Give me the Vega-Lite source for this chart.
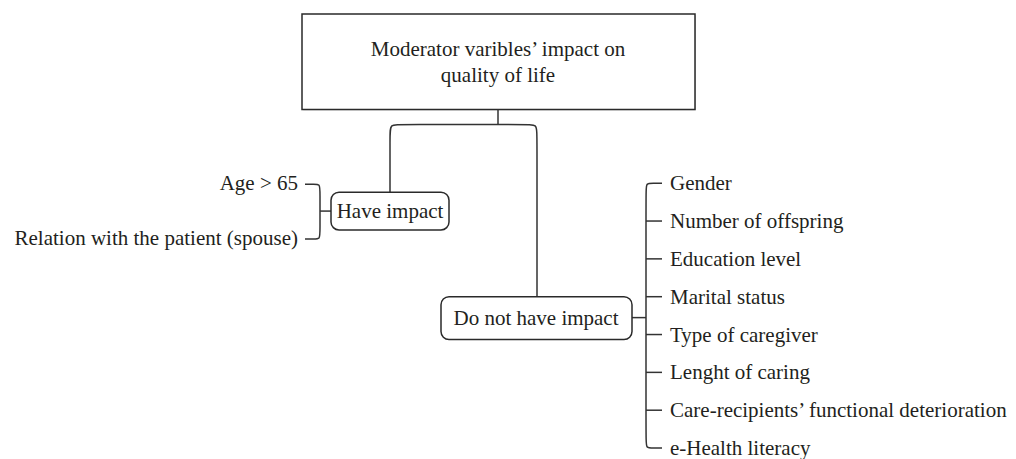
{
  "$schema": "https://vega.github.io/schema/vega-lite/v6.json",
  "width": 1016,
  "height": 459,
  "padding": 0,
  "autosize": {"type": "fit", "contains": "padding"},
  "background": "white",
  "config": {"view": {"stroke": null}},
  "datasets": {
    "boxes": [
      {"id": "root", "kind": "square", "x": 302, "x2": 695, "y": 14, "y2": 110},
      {"id": "have", "kind": "round", "x": 331, "x2": 449, "y": 193, "y2": 231},
      {"id": "not", "kind": "round", "x": 441, "x2": 632, "y": 298, "y2": 341}
    ],
    "paths": [
      {"path": "stem", "seq": 1, "x": 498, "y": 110},
      {"path": "stem", "seq": 2, "x": 498, "y": 125},
      {"path": "fork", "seq": 1, "x": 390, "y": 193},
      {"path": "fork", "seq": 2, "x": 390, "y": 135},
      {"path": "fork", "seq": 3, "x": 390, "y": 125},
      {"path": "fork", "seq": 4, "x": 400, "y": 125},
      {"path": "fork", "seq": 5, "x": 527, "y": 125},
      {"path": "fork", "seq": 6, "x": 537, "y": 125},
      {"path": "fork", "seq": 7, "x": 537, "y": 135},
      {"path": "fork", "seq": 8, "x": 537, "y": 298},
      {"path": "left", "seq": 1, "x": 305, "y": 185},
      {"path": "left", "seq": 2, "x": 314, "y": 185},
      {"path": "left", "seq": 3, "x": 320, "y": 185},
      {"path": "left", "seq": 4, "x": 320, "y": 191},
      {"path": "left", "seq": 5, "x": 320, "y": 234},
      {"path": "left", "seq": 6, "x": 320, "y": 240},
      {"path": "left", "seq": 7, "x": 314, "y": 240},
      {"path": "left", "seq": 8, "x": 305, "y": 240},
      {"path": "lefttick", "seq": 1, "x": 320, "y": 212},
      {"path": "lefttick", "seq": 2, "x": 331, "y": 212},
      {"path": "nottick", "seq": 1, "x": 632, "y": 319},
      {"path": "nottick", "seq": 2, "x": 646, "y": 319},
      {"path": "right", "seq": 1, "x": 662, "y": 184},
      {"path": "right", "seq": 2, "x": 653, "y": 184},
      {"path": "right", "seq": 3, "x": 646, "y": 184},
      {"path": "right", "seq": 4, "x": 646, "y": 191},
      {"path": "right", "seq": 5, "x": 646, "y": 443},
      {"path": "right", "seq": 6, "x": 646, "y": 450},
      {"path": "right", "seq": 7, "x": 653, "y": 450},
      {"path": "right", "seq": 8, "x": 662, "y": 450},
      {"path": "t2", "seq": 1, "x": 646, "y": 222},
      {"path": "t2", "seq": 2, "x": 662, "y": 222},
      {"path": "t3", "seq": 1, "x": 646, "y": 260},
      {"path": "t3", "seq": 2, "x": 662, "y": 260},
      {"path": "t4", "seq": 1, "x": 646, "y": 298},
      {"path": "t4", "seq": 2, "x": 662, "y": 298},
      {"path": "t5", "seq": 1, "x": 646, "y": 336},
      {"path": "t5", "seq": 2, "x": 662, "y": 336},
      {"path": "t6", "seq": 1, "x": 646, "y": 374},
      {"path": "t6", "seq": 2, "x": 662, "y": 374},
      {"path": "t7", "seq": 1, "x": 646, "y": 412},
      {"path": "t7", "seq": 2, "x": 662, "y": 412}
    ],
    "labels": [
      {"role": "node", "x": 498, "y": 56, "text": "Moderator varibles’ impact on"},
      {"role": "node", "x": 498, "y": 82, "text": "quality of life"},
      {"role": "node", "x": 390, "y": 219, "text": "Have impact"},
      {"role": "node", "x": 536, "y": 326, "text": "Do not have impact"},
      {"role": "left", "x": 298, "y": 191, "text": "Age > 65"},
      {"role": "left", "x": 298, "y": 246, "text": "Relation with the patient (spouse)"},
      {"role": "right", "x": 670, "y": 191, "text": "Gender"},
      {"role": "right", "x": 670, "y": 229, "text": "Number of offspring"},
      {"role": "right", "x": 670, "y": 267, "text": "Education level"},
      {"role": "right", "x": 670, "y": 305, "text": "Marital status"},
      {"role": "right", "x": 670, "y": 343, "text": "Type of caregiver"},
      {"role": "right", "x": 670, "y": 381, "text": "Lenght of caring"},
      {"role": "right", "x": 670, "y": 419, "text": "Care-recipients’ functional deterioration"},
      {"role": "right", "x": 670, "y": 457, "text": "e-Health literacy"}
    ]
  },
  "layer": [
    {
      "data": {"name": "boxes"},
      "transform": [{"filter": "datum.kind === 'square'"}],
      "mark": {"type": "rect", "fill": null, "stroke": "#c8c8c8", "strokeWidth": 1.5, "xOffset": 2, "yOffset": 2},
      "encoding": {
        "x": {"field": "x", "type": "quantitative", "scale": {"domain": [0, 1016]}, "axis": null},
        "x2": {"field": "x2"},
        "y": {"field": "y", "type": "quantitative", "scale": {"domain": [0, 459], "reverse": true}, "axis": null},
        "y2": {"field": "y2"}
      }
    },
    {
      "data": {"name": "boxes"},
      "transform": [{"filter": "datum.kind === 'square'"}],
      "mark": {"type": "rect", "fill": "white", "stroke": "#2a2a2a", "strokeWidth": 1.5},
      "encoding": {
        "x": {"field": "x", "type": "quantitative", "scale": {"domain": [0, 1016]}, "axis": null},
        "x2": {"field": "x2"},
        "y": {"field": "y", "type": "quantitative", "scale": {"domain": [0, 459], "reverse": true}, "axis": null},
        "y2": {"field": "y2"}
      }
    },
    {
      "data": {"name": "paths"},
      "mark": {"type": "line", "interpolate": "basis", "stroke": "#333333", "strokeWidth": 1.5},
      "encoding": {
        "x": {"field": "x", "type": "quantitative", "scale": {"domain": [0, 1016]}, "axis": null},
        "y": {"field": "y", "type": "quantitative", "scale": {"domain": [0, 459], "reverse": true}, "axis": null},
        "detail": {"field": "path", "type": "nominal"},
        "order": {"field": "seq", "type": "quantitative"}
      }
    },
    {
      "data": {"name": "boxes"},
      "transform": [{"filter": "datum.kind === 'round'"}],
      "mark": {"type": "rect", "fill": "white", "stroke": "#2a2a2a", "strokeWidth": 1.5, "cornerRadius": 8},
      "encoding": {
        "x": {"field": "x", "type": "quantitative", "scale": {"domain": [0, 1016]}, "axis": null},
        "x2": {"field": "x2"},
        "y": {"field": "y", "type": "quantitative", "scale": {"domain": [0, 459], "reverse": true}, "axis": null},
        "y2": {"field": "y2"}
      }
    },
    {
      "data": {"name": "labels"},
      "transform": [{"filter": "datum.role === 'node'"}],
      "mark": {"type": "text", "align": "center", "baseline": "alphabetic", "font": "Liberation Serif", "fontSize": 21, "color": "#231f20"},
      "encoding": {
        "x": {"field": "x", "type": "quantitative", "scale": {"domain": [0, 1016]}, "axis": null},
        "y": {"field": "y", "type": "quantitative", "scale": {"domain": [0, 459], "reverse": true}, "axis": null},
        "text": {"field": "text"}
      }
    },
    {
      "data": {"name": "labels"},
      "transform": [{"filter": "datum.role === 'left'"}],
      "mark": {"type": "text", "align": "right", "baseline": "alphabetic", "font": "Liberation Serif", "fontSize": 21, "color": "#231f20"},
      "encoding": {
        "x": {"field": "x", "type": "quantitative", "scale": {"domain": [0, 1016]}, "axis": null},
        "y": {"field": "y", "type": "quantitative", "scale": {"domain": [0, 459], "reverse": true}, "axis": null},
        "text": {"field": "text"}
      }
    },
    {
      "data": {"name": "labels"},
      "transform": [{"filter": "datum.role === 'right'"}],
      "mark": {"type": "text", "align": "left", "baseline": "alphabetic", "font": "Liberation Serif", "fontSize": 21, "color": "#231f20"},
      "encoding": {
        "x": {"field": "x", "type": "quantitative", "scale": {"domain": [0, 1016]}, "axis": null},
        "y": {"field": "y", "type": "quantitative", "scale": {"domain": [0, 459], "reverse": true}, "axis": null},
        "text": {"field": "text"}
      }
    }
  ]
}
